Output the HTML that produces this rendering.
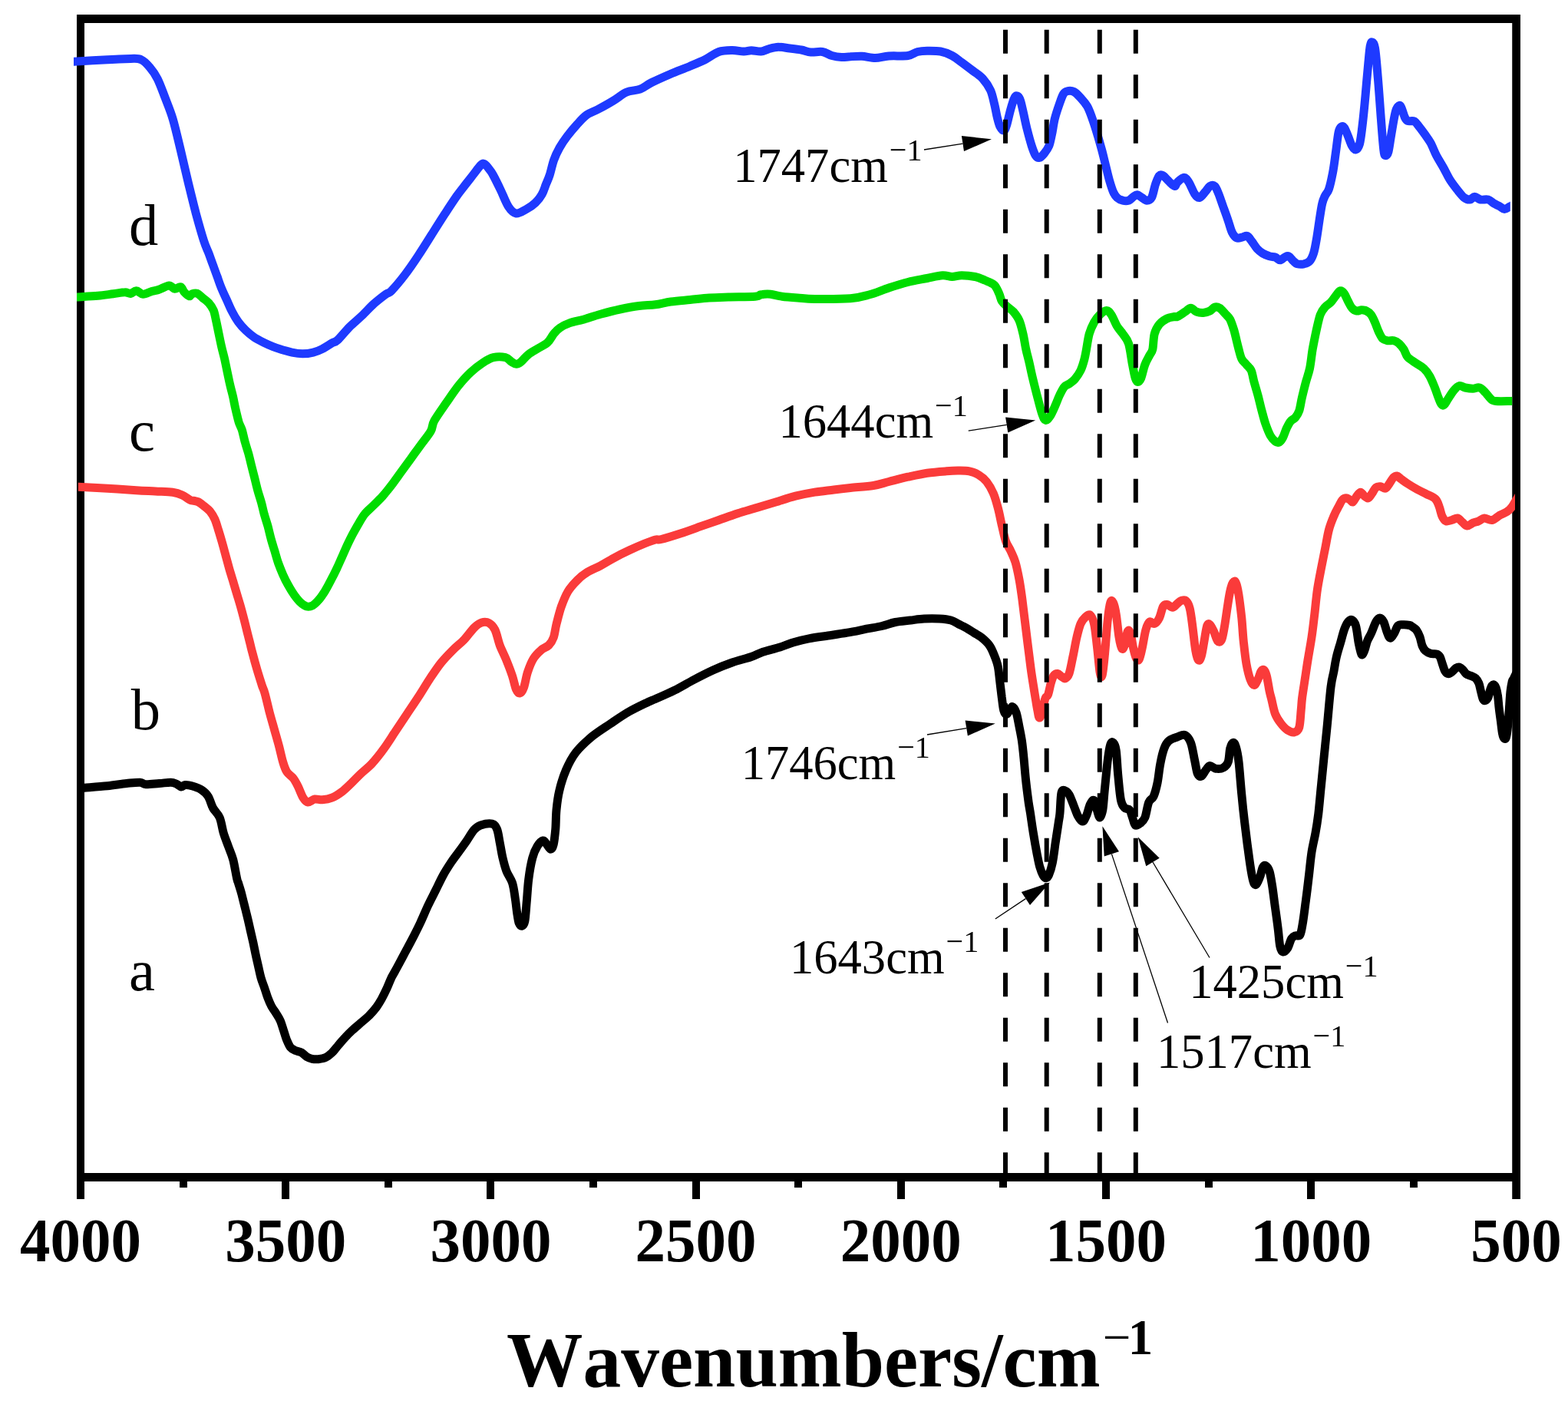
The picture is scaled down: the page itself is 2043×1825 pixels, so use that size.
<!DOCTYPE html>
<html lang="en"><head><meta charset="utf-8"><title>FTIR spectra</title>
<style>html,body{margin:0;padding:0;background:#fff}body{width:2043px;height:1825px;overflow:hidden}svg{display:block}text{font-family:"Liberation Serif",serif;fill:#000}.tk{font-weight:bold;font-size:79px;text-anchor:middle}.lb{font-size:76.5px}.an{font-size:64px}.sup{font-size:41px}.ti{font-weight:bold;font-size:99.5px}.tis{font-weight:bold;font-size:65px}.tim{font-weight:normal;font-size:65px}</style></head><body>
<svg width="2043" height="1825" viewBox="0 0 2043 1825">
<rect width="2043" height="1825" fill="#fff"/>
<g fill="#000" shape-rendering="crispEdges">
<rect x="100" y="19" width="1881" height="11"/>
<rect x="100" y="1528" width="1881" height="10.5"/>
<rect x="100" y="19" width="10" height="1543"/>
<rect x="1970.25" y="19" width="10.75" height="1543" shape-rendering="auto"/>
<rect x="367.2" y="1528" width="10" height="34"/>
<rect x="634.4" y="1528" width="10" height="34"/>
<rect x="901.6" y="1528" width="10" height="34"/>
<rect x="1168.8" y="1528" width="10" height="34"/>
<rect x="1436.0" y="1528" width="10" height="34"/>
<rect x="1703.2" y="1528" width="10" height="34"/>
<rect x="233.6" y="1528" width="10" height="18.5"/>
<rect x="500.8" y="1528" width="10" height="18.5"/>
<rect x="768.0" y="1528" width="10" height="18.5"/>
<rect x="1035.2" y="1528" width="10" height="18.5"/>
<rect x="1302.4" y="1528" width="10" height="18.5"/>
<rect x="1569.6" y="1528" width="10" height="18.5"/>
<rect x="1836.8" y="1528" width="10" height="18.5"/>
</g>
<defs><clipPath id="cp-blue"><rect x="96" y="0" width="1871.8" height="1825"/></clipPath><clipPath id="cp-green"><rect x="100" y="0" width="1870.2" height="1825"/></clipPath><clipPath id="cp-red"><rect x="102" y="0" width="1872" height="1825"/></clipPath><clipPath id="cp-black"><rect x="104" y="0" width="1871" height="1825"/></clipPath></defs>
<path d="M102.0,1026.9C103.3,1026.8 103.7,1026.8 110.0,1026.2C116.3,1025.7 130.8,1024.7 140.0,1023.8C149.2,1022.8 157.9,1021.2 165.0,1020.5C172.1,1019.8 178.3,1019.0 182.5,1019.2C186.7,1019.5 185.8,1021.5 190.0,1021.8C194.2,1022.0 202.1,1020.9 207.5,1020.5C212.9,1020.1 218.8,1019.1 222.5,1019.2C226.2,1019.4 227.7,1020.3 230.0,1021.2C232.3,1022.2 234.4,1024.8 236.2,1025.0C238.1,1025.2 239.0,1022.7 241.2,1022.5C243.5,1022.3 246.5,1022.7 250.0,1023.8C253.5,1024.8 259.0,1026.5 262.5,1028.8C266.0,1031.0 268.8,1033.5 271.2,1037.5C273.8,1041.5 275.0,1047.9 277.5,1052.5C280.0,1057.1 284.0,1059.6 286.2,1065.0C288.5,1070.4 289.4,1078.8 291.2,1085.0C293.1,1091.2 295.4,1096.7 297.5,1102.5C299.6,1108.3 301.9,1112.9 303.8,1120.0C305.6,1127.1 307.6,1140.0 308.8,1145.0C309.9,1150.0 309.5,1146.9 310.4,1150.0C311.4,1153.1 313.2,1158.7 314.6,1163.7C315.9,1168.8 317.3,1174.7 318.7,1180.2C320.1,1185.7 321.5,1191.4 322.8,1196.7C324.1,1202.0 325.1,1206.8 326.2,1211.8C327.4,1216.8 328.5,1221.7 329.7,1226.9C330.8,1232.2 332.0,1238.1 333.1,1243.4C334.2,1248.7 335.4,1253.5 336.5,1258.5C337.7,1263.6 338.6,1268.8 340.0,1273.6C341.3,1278.4 343.3,1283.0 344.8,1287.4C346.3,1291.7 347.4,1295.8 348.9,1299.7C350.4,1303.6 351.9,1307.3 353.7,1310.7C355.5,1314.1 357.9,1317.1 359.9,1320.3C361.8,1323.5 363.8,1326.3 365.4,1329.9C367.0,1333.6 368.1,1338.2 369.5,1342.3C370.9,1346.4 372.1,1351.0 373.6,1354.7C375.1,1358.3 376.6,1362.0 378.4,1364.3C380.3,1366.6 382.2,1367.3 384.6,1368.4C387.0,1369.6 390.3,1369.8 392.9,1371.2C395.4,1372.5 397.4,1375.3 399.7,1376.6C402.0,1378.0 404.1,1378.9 406.6,1379.4C409.1,1379.9 411.9,1380.0 414.8,1379.7C417.8,1379.3 421.5,1378.8 424.5,1377.3C427.4,1375.9 429.9,1373.8 432.7,1371.2C435.4,1368.5 438.2,1364.7 440.9,1361.5C443.7,1358.3 446.2,1355.1 449.2,1351.9C452.2,1348.7 455.4,1345.5 458.8,1342.3C462.2,1339.1 466.1,1335.9 469.8,1332.7C473.4,1329.5 477.3,1326.5 480.8,1323.1C484.2,1319.6 487.6,1315.8 490.4,1312.1C493.1,1308.4 495.0,1305.2 497.3,1301.1C499.5,1297.0 502.0,1291.9 504.1,1287.4C506.2,1282.8 507.8,1278.2 510.0,1273.6C512.3,1269.1 514.6,1265.4 517.5,1260.0C520.4,1254.6 524.2,1247.5 527.5,1241.2C530.8,1235.0 534.2,1229.0 537.5,1222.5C540.8,1216.0 544.2,1209.6 547.5,1202.5C550.8,1195.4 554.2,1187.1 557.5,1180.0C560.8,1172.9 564.2,1166.7 567.5,1160.0C570.8,1153.3 574.2,1146.0 577.5,1140.0C580.8,1134.0 584.2,1128.8 587.5,1123.8C590.8,1118.8 594.2,1114.6 597.5,1110.0C600.8,1105.4 604.2,1101.0 607.5,1096.2C610.8,1091.5 614.4,1084.8 617.5,1081.2C620.6,1077.7 622.3,1076.3 626.2,1075.0C630.2,1073.7 637.7,1072.4 641.2,1073.2C644.8,1074.1 645.8,1076.0 647.5,1080.0C649.2,1084.0 650.0,1091.2 651.2,1097.5C652.5,1103.8 653.5,1111.2 655.0,1117.5C656.5,1123.8 657.9,1129.6 660.0,1135.0C662.1,1140.4 665.6,1144.2 667.5,1150.0C669.4,1155.8 670.2,1163.3 671.2,1170.0C672.3,1176.7 672.9,1184.6 673.8,1190.0C674.6,1195.4 675.2,1199.8 676.2,1202.5C677.3,1205.2 678.8,1206.7 680.0,1206.2C681.2,1205.8 682.7,1205.2 683.8,1200.0C684.8,1194.8 685.4,1184.2 686.2,1175.0C687.1,1165.8 687.5,1154.6 688.8,1145.0C690.0,1135.4 691.9,1124.6 693.8,1117.5C695.6,1110.4 697.7,1106.2 700.0,1102.5C702.3,1098.8 705.4,1095.4 707.5,1095.0C709.6,1094.6 710.8,1098.1 712.5,1100.0C714.2,1101.9 716.0,1106.2 717.5,1106.2C719.0,1106.2 720.2,1104.4 721.2,1100.0C722.3,1095.6 723.1,1087.5 723.8,1080.0C724.4,1072.5 724.2,1063.3 725.0,1055.0C725.8,1046.7 726.7,1038.7 728.8,1030.0C730.8,1021.3 734.0,1011.2 737.5,1003.0C741.0,994.8 744.6,987.6 750.0,980.5C755.4,973.4 762.5,966.8 770.0,960.5C777.5,954.2 786.7,948.6 795.0,943.0C803.3,937.4 811.7,931.5 820.0,926.8C828.3,922.0 839.3,917.0 845.0,914.2C850.7,911.5 848.3,913.0 854.0,910.5C859.7,908.0 870.7,903.4 879.0,899.2C887.3,895.1 895.7,889.9 904.0,885.5C912.3,881.1 920.7,876.8 929.0,873.0C937.3,869.2 945.7,865.9 954.0,863.0C962.3,860.1 972.3,857.8 979.0,855.5C985.7,853.2 987.8,851.3 994.0,849.2C1000.2,847.2 1009.8,845.1 1016.5,843.0C1023.2,840.9 1027.8,838.6 1034.0,836.8C1040.2,834.9 1046.5,833.2 1054.0,831.8C1061.5,830.3 1070.7,829.2 1079.0,828.0C1087.3,826.8 1095.7,825.7 1104.0,824.2C1112.3,822.8 1121.5,820.7 1129.0,819.2C1136.5,817.8 1142.8,817.0 1149.0,815.5C1155.2,814.0 1160.2,811.8 1166.5,810.5C1172.8,809.2 1180.2,808.8 1186.5,808.0C1192.8,807.2 1197.8,806.3 1204.0,806.0C1210.2,805.7 1218.2,805.7 1224.0,806.0C1229.8,806.3 1234.8,806.8 1239.0,808.0C1243.2,809.2 1245.7,811.3 1249.0,813.0C1252.3,814.7 1255.7,816.1 1259.0,818.0C1262.3,819.9 1265.7,822.2 1269.0,824.2C1272.3,826.3 1275.7,827.8 1279.0,830.5C1282.3,833.2 1286.3,836.8 1289.0,840.5C1291.7,844.2 1293.4,848.4 1295.2,853.0C1297.1,857.6 1299.0,862.2 1300.2,868.0C1301.5,873.8 1301.9,881.3 1302.8,888.0C1303.6,894.7 1304.4,901.8 1305.2,908.0C1306.1,914.2 1306.7,921.8 1307.8,925.5C1308.8,929.2 1310.2,930.5 1311.5,930.5C1312.8,930.5 1314.0,927.2 1315.2,925.5C1316.5,923.8 1317.5,920.1 1319.0,920.5C1320.5,920.9 1322.5,923.8 1324.0,928.0C1325.5,932.2 1326.5,939.2 1327.8,945.5C1329.0,951.8 1330.5,958.4 1331.5,965.5C1332.5,972.6 1333.2,979.7 1334.0,988.0C1334.8,996.3 1335.5,1005.9 1336.5,1015.5C1337.5,1025.1 1339.2,1038.1 1340.2,1045.5C1341.3,1052.9 1341.6,1053.3 1342.6,1060.0C1343.6,1066.7 1345.0,1077.0 1346.4,1085.5C1347.8,1094.1 1349.5,1103.8 1350.9,1111.1C1352.3,1118.3 1353.3,1124.1 1354.7,1129.0C1356.1,1133.9 1357.8,1138.0 1359.2,1140.5C1360.6,1142.9 1361.7,1143.9 1363.0,1143.7C1364.3,1143.4 1365.5,1142.5 1366.8,1139.2C1368.2,1135.9 1369.9,1130.7 1371.3,1123.9C1372.7,1117.0 1373.9,1106.8 1375.1,1098.3C1376.4,1089.8 1378.0,1079.2 1379.0,1072.8C1379.9,1066.4 1380.2,1066.7 1380.9,1060.0C1381.6,1053.3 1381.8,1037.5 1383.0,1032.5C1384.2,1027.5 1386.3,1029.6 1388.0,1030.0C1389.7,1030.4 1391.1,1031.7 1393.0,1035.0C1394.9,1038.3 1397.4,1045.4 1399.2,1050.0C1401.1,1054.6 1402.4,1059.2 1404.2,1062.5C1406.1,1065.8 1408.6,1070.0 1410.5,1070.0C1412.4,1070.0 1413.8,1066.2 1415.5,1062.5C1417.2,1058.8 1418.8,1050.8 1420.5,1047.5C1422.2,1044.2 1424.0,1041.2 1425.5,1042.5C1427.0,1043.8 1428.0,1051.2 1429.2,1055.0C1430.5,1058.8 1431.8,1065.0 1433.0,1065.0C1434.2,1065.0 1435.7,1060.8 1436.8,1055.0C1437.8,1049.2 1438.2,1040.4 1439.2,1030.0C1440.3,1019.6 1441.8,1002.5 1443.0,992.5C1444.2,982.5 1445.5,974.2 1446.8,970.0C1448.0,965.8 1449.2,966.2 1450.5,967.5C1451.8,968.8 1453.2,970.4 1454.2,977.5C1455.3,984.6 1455.7,999.2 1456.8,1010.0C1457.8,1020.8 1459.0,1035.4 1460.5,1042.5C1462.0,1049.6 1463.6,1050.4 1465.5,1052.5C1467.4,1054.6 1470.1,1052.9 1471.8,1055.0C1473.4,1057.1 1474.2,1061.7 1475.5,1065.0C1476.8,1068.3 1477.6,1073.8 1479.2,1075.0C1480.9,1076.2 1483.4,1074.2 1485.5,1072.5C1487.6,1070.8 1489.9,1069.6 1491.8,1065.0C1493.6,1060.4 1494.9,1049.6 1496.8,1045.0C1498.6,1040.4 1501.1,1041.7 1503.0,1037.5C1504.9,1033.3 1506.5,1027.1 1508.0,1020.0C1509.5,1012.9 1510.3,1002.5 1511.8,995.0C1513.2,987.5 1514.9,980.0 1516.8,975.0C1518.6,970.0 1520.1,967.5 1523.0,965.0C1525.9,962.5 1530.5,961.2 1534.0,960.0C1537.5,958.8 1541.1,956.2 1544.0,957.5C1546.9,958.8 1549.4,962.1 1551.5,967.5C1553.6,972.9 1555.0,983.3 1556.5,990.0C1558.0,996.7 1558.8,1004.0 1560.2,1007.5C1561.7,1011.0 1563.4,1012.1 1565.2,1011.2C1567.1,1010.4 1569.6,1004.8 1571.5,1002.5C1573.4,1000.2 1574.4,997.7 1576.5,997.5C1578.6,997.3 1581.1,1000.8 1584.0,1001.2C1586.9,1001.7 1591.3,1001.5 1594.0,1000.0C1596.7,998.5 1598.8,996.7 1600.2,992.5C1601.7,988.3 1601.7,979.2 1602.8,975.0C1603.8,970.8 1605.2,967.9 1606.5,967.5C1607.8,967.1 1609.0,968.3 1610.2,972.5C1611.5,976.7 1612.8,982.1 1614.0,992.5C1615.2,1002.9 1616.5,1022.1 1617.8,1035.0C1619.0,1047.9 1620.2,1059.2 1621.5,1070.0C1622.8,1080.8 1624.0,1090.4 1625.2,1100.0C1626.5,1109.6 1627.8,1119.6 1629.0,1127.5C1630.2,1135.4 1631.5,1143.3 1632.8,1147.5C1634.0,1151.7 1635.0,1153.3 1636.5,1152.5C1638.0,1151.7 1640.0,1146.2 1641.5,1142.5C1643.0,1138.8 1644.0,1132.5 1645.2,1130.0C1646.5,1127.5 1647.5,1126.7 1649.0,1127.5C1650.5,1128.3 1652.5,1130.4 1654.0,1135.0C1655.5,1139.6 1656.5,1147.1 1657.8,1155.0C1659.0,1162.9 1660.2,1173.3 1661.5,1182.5C1662.8,1191.7 1664.2,1201.7 1665.2,1210.0C1666.3,1218.3 1666.7,1227.5 1667.8,1232.5C1668.8,1237.5 1669.8,1239.6 1671.5,1240.0C1673.2,1240.4 1675.9,1237.9 1677.8,1235.0C1679.6,1232.1 1681.1,1225.2 1682.8,1222.5C1684.4,1219.8 1685.9,1219.6 1687.8,1218.8C1689.6,1217.9 1692.3,1220.6 1694.0,1217.5C1695.7,1214.4 1696.5,1207.5 1697.8,1200.0C1699.0,1192.5 1700.2,1182.1 1701.5,1172.5C1702.8,1162.9 1704.0,1152.9 1705.2,1142.5C1706.5,1132.1 1707.5,1119.6 1709.0,1110.0C1710.5,1100.4 1712.5,1093.3 1714.0,1085.0C1715.5,1076.7 1716.5,1070.4 1717.8,1060.0C1719.0,1049.6 1720.2,1035.0 1721.5,1022.5C1722.8,1010.0 1724.0,997.5 1725.2,985.0C1726.5,972.5 1727.5,962.5 1729.0,947.5C1730.5,932.5 1732.5,907.1 1734.0,895.0C1735.5,882.9 1736.5,881.7 1737.8,875.0C1739.0,868.3 1740.0,861.2 1741.5,855.0C1743.0,848.8 1744.8,843.3 1746.5,837.5C1748.2,831.7 1749.8,824.6 1751.5,820.0C1753.2,815.4 1754.8,812.1 1756.5,810.0C1758.2,807.9 1759.8,806.7 1761.5,807.5C1763.2,808.3 1765.0,810.0 1766.5,815.0C1768.0,820.0 1769.0,831.2 1770.2,837.5C1771.5,843.8 1772.8,850.8 1774.0,852.5C1775.2,854.2 1776.5,850.4 1777.8,847.5C1779.0,844.6 1780.0,838.8 1781.5,835.0C1783.0,831.2 1784.6,829.2 1786.5,825.0C1788.4,820.8 1790.9,813.3 1792.8,810.0C1794.6,806.7 1796.1,805.0 1797.8,805.0C1799.4,805.0 1801.1,806.7 1802.8,810.0C1804.4,813.3 1806.3,821.5 1807.8,825.0C1809.2,828.5 1810.0,831.2 1811.5,831.2C1813.0,831.2 1814.8,827.7 1816.5,825.0C1818.2,822.3 1819.6,816.9 1821.5,815.0C1823.4,813.1 1825.2,813.8 1827.8,813.8C1830.2,813.7 1834.5,814.1 1836.5,814.5C1838.5,814.9 1838.5,815.2 1840.0,816.3C1841.5,817.3 1843.8,818.5 1845.5,820.7C1847.1,822.9 1848.6,826.0 1849.9,829.5C1851.2,832.9 1851.9,838.4 1853.2,841.5C1854.5,844.7 1855.8,846.5 1857.6,848.1C1859.4,849.8 1861.8,850.8 1864.2,851.4C1866.6,852.1 1869.9,851.2 1871.9,852.0C1873.9,852.7 1875.0,853.5 1876.3,855.8C1877.5,858.1 1878.5,862.6 1879.6,865.7C1880.7,868.8 1881.6,872.5 1882.9,874.5C1884.1,876.5 1885.6,877.8 1887.3,877.8C1888.9,877.8 1891.1,875.8 1892.7,874.5C1894.4,873.2 1895.7,871.0 1897.1,870.1C1898.6,869.2 1900.1,868.6 1901.5,869.0C1903.0,869.4 1904.5,870.8 1905.9,872.3C1907.4,873.8 1908.5,876.4 1910.3,877.8C1912.2,879.2 1914.9,879.6 1916.9,880.5C1918.9,881.5 1920.8,881.7 1922.4,883.3C1924.1,884.9 1925.6,887.0 1926.8,889.9C1928.0,892.8 1928.6,897.4 1929.6,900.9C1930.5,904.4 1931.3,908.8 1932.3,910.8C1933.3,912.7 1934.5,912.8 1935.6,912.4C1936.7,912.1 1937.9,910.9 1938.9,908.6C1939.9,906.3 1940.8,901.2 1941.6,898.7C1942.5,896.1 1943.0,894.3 1943.8,893.2C1944.7,892.1 1945.7,891.5 1946.6,892.1C1947.5,892.6 1948.5,894.1 1949.3,896.5C1950.2,898.9 1950.9,902.0 1951.5,906.4C1952.2,910.8 1952.5,917.4 1953.2,922.9C1953.8,928.4 1954.7,933.8 1955.4,939.3C1956.1,944.8 1956.8,952.1 1957.6,955.8C1958.3,959.6 1959.0,961.1 1959.8,961.9C1960.6,962.6 1961.7,963.1 1962.5,960.2C1963.4,957.4 1964.1,951.1 1964.7,944.8C1965.4,938.6 1965.8,930.2 1966.4,922.9C1966.9,915.5 1967.4,906.7 1968.0,900.9C1968.7,895.0 1969.6,890.4 1970.2,887.7C1970.9,884.9 1970.3,887.6 1971.9,884.4C1973.5,881.2 1978.5,871.1 1979.9,868.4" fill="none" stroke="#000000" stroke-width="11" stroke-linejoin="round" stroke-linecap="butt" clip-path="url(#cp-black)"/>
<path d="M94.5,633.8C95.8,633.9 94.9,633.8 102.5,634.2C110.1,634.7 127.5,635.5 140.0,636.2C152.5,637.0 167.1,638.1 177.5,638.8C187.9,639.4 194.6,639.6 202.5,640.0C210.4,640.4 219.2,640.4 225.0,641.2C230.8,642.1 233.8,643.3 237.5,645.0C241.2,646.7 245.4,650.1 247.5,651.2C249.6,652.4 248.3,651.6 250.0,652.0C251.7,652.4 255.2,652.4 257.9,653.6C260.5,654.7 263.1,657.0 265.7,659.1C268.3,661.2 271.2,663.2 273.6,666.1C275.9,669.0 278.0,672.3 279.9,676.4C281.7,680.4 283.0,685.5 284.6,690.5C286.2,695.5 287.7,700.7 289.3,706.2C290.9,711.7 292.5,717.8 294.0,723.5C295.6,729.3 297.2,735.3 298.7,740.8C300.3,746.3 301.9,751.3 303.5,756.5C305.0,761.8 306.6,767.0 308.2,772.3C309.7,777.5 311.3,782.5 312.9,788.0C314.5,793.5 316.0,799.3 317.6,805.3C319.2,811.3 320.9,818.4 322.3,824.2C323.8,829.9 325.2,835.7 326.3,840.0C327.3,844.3 327.3,844.6 328.8,850.0C330.2,855.4 332.9,865.4 335.0,872.5C337.1,879.6 339.6,887.4 341.2,892.5C342.9,897.6 343.3,897.1 345.0,903.0C346.7,908.9 349.2,920.1 351.2,928.0C353.3,935.9 355.4,943.0 357.5,950.5C359.6,958.0 361.9,965.9 363.8,973.0C365.6,980.1 367.1,987.6 368.8,993.0C370.4,998.4 371.5,1002.0 373.8,1005.5C376.0,1009.0 380.0,1010.9 382.5,1014.2C385.0,1017.6 386.7,1021.3 388.8,1025.5C390.8,1029.7 392.9,1036.0 395.0,1039.2C397.1,1042.5 398.8,1044.7 401.2,1045.0C403.8,1045.3 406.9,1041.5 410.0,1041.0C413.1,1040.5 416.2,1042.0 420.0,1041.8C423.8,1041.5 428.3,1040.9 432.5,1039.2C436.7,1037.6 440.8,1034.9 445.0,1031.8C449.2,1028.6 453.3,1024.5 457.5,1020.5C461.7,1016.5 465.4,1012.4 470.0,1008.0C474.6,1003.6 480.0,999.7 485.0,994.2C490.0,988.8 495.0,982.4 500.0,975.5C505.0,968.6 510.0,960.5 515.0,953.0C520.0,945.5 525.0,938.0 530.0,930.5C535.0,923.0 540.0,915.7 545.0,908.0C550.0,900.3 555.0,891.8 560.0,884.2C565.0,876.8 570.0,869.2 575.0,863.0C580.0,856.8 585.0,851.8 590.0,846.8C595.0,841.8 600.4,837.8 605.0,833.0C609.6,828.2 613.8,821.7 617.5,818.0C621.2,814.3 624.2,812.0 627.5,811.0C630.8,810.0 634.6,810.2 637.5,811.8C640.4,813.3 642.7,815.7 645.0,820.5C647.3,825.3 648.8,833.8 651.2,840.5C653.8,847.2 657.3,853.8 660.0,860.5C662.7,867.2 665.4,874.2 667.5,880.5C669.6,886.8 670.8,894.2 672.5,898.0C674.2,901.8 675.8,903.4 677.5,903.0C679.2,902.6 680.8,900.1 682.5,895.5C684.2,890.9 685.4,881.8 687.5,875.5C689.6,869.2 692.1,862.8 695.0,858.0C697.9,853.2 701.7,849.7 705.0,846.8C708.3,843.8 712.3,843.2 715.0,840.5C717.7,837.8 719.6,835.1 721.2,830.5C722.9,825.9 723.3,819.7 725.0,813.0C726.7,806.3 728.8,797.6 731.2,790.5C733.8,783.4 736.5,776.3 740.0,770.5C743.5,764.7 748.3,759.7 752.5,755.5C756.7,751.3 760.0,748.6 765.0,745.5C770.0,742.4 776.7,739.9 782.5,736.8C788.3,733.6 793.8,730.1 800.0,726.8C806.2,723.4 813.3,719.9 820.0,716.8C826.7,713.6 834.3,710.3 840.0,708.0C845.7,705.7 850.4,703.9 854.0,703.0C857.6,702.1 856.1,703.8 861.5,702.5C866.9,701.2 878.2,697.7 886.5,695.0C894.8,692.3 903.2,689.2 911.5,686.2C919.8,683.3 928.2,680.4 936.5,677.5C944.8,674.6 953.2,671.5 961.5,668.8C969.8,666.0 978.2,663.8 986.5,661.2C994.8,658.8 1003.2,656.2 1011.5,653.8C1019.8,651.2 1028.2,648.3 1036.5,646.2C1044.8,644.2 1053.2,642.6 1061.5,641.2C1069.8,639.9 1078.8,639.0 1086.5,638.0C1094.2,637.0 1099.4,636.4 1108.0,635.5C1116.6,634.6 1129.7,633.8 1138.0,632.5C1146.3,631.2 1150.5,629.4 1158.0,627.5C1165.5,625.6 1174.7,623.1 1183.0,621.2C1191.3,619.4 1199.7,617.5 1208.0,616.2C1216.3,615.0 1226.3,614.3 1233.0,613.8C1239.7,613.2 1243.0,613.0 1248.0,613.0C1253.0,613.0 1258.4,612.8 1263.0,613.8C1267.6,614.7 1271.8,616.5 1275.5,618.8C1279.2,621.0 1282.4,623.5 1285.5,627.5C1288.6,631.5 1291.8,636.7 1294.2,642.5C1296.8,648.3 1298.6,655.4 1300.5,662.5C1302.4,669.6 1303.8,677.9 1305.5,685.0C1307.2,692.1 1308.6,699.6 1310.5,705.0C1312.4,710.4 1314.7,712.9 1316.8,717.5C1318.8,722.1 1321.1,726.2 1323.0,732.5C1324.9,738.8 1326.5,747.1 1328.0,755.0C1329.5,762.9 1330.5,770.8 1331.8,780.0C1333.0,789.2 1334.2,800.0 1335.5,810.0C1336.8,820.0 1338.0,830.0 1339.2,840.0C1340.5,850.0 1341.8,860.8 1343.0,870.0C1344.2,879.2 1345.7,888.3 1346.8,895.0C1347.8,901.7 1348.4,905.0 1349.2,910.0C1350.1,915.0 1350.9,920.8 1351.8,925.0C1352.6,929.2 1353.2,934.6 1354.2,935.0C1355.3,935.4 1356.8,931.7 1358.0,927.5C1359.2,923.3 1360.5,913.8 1361.8,910.0C1363.0,906.2 1364.2,908.3 1365.5,905.0C1366.8,901.7 1368.0,894.2 1369.2,890.0C1370.5,885.8 1371.5,882.1 1373.0,880.0C1374.5,877.9 1376.3,877.3 1378.0,877.5C1379.7,877.7 1381.3,880.2 1383.0,881.2C1384.7,882.3 1386.3,884.4 1388.0,883.8C1389.7,883.1 1391.3,882.3 1393.0,877.5C1394.7,872.7 1396.3,862.9 1398.0,855.0C1399.7,847.1 1401.3,837.1 1403.0,830.0C1404.7,822.9 1406.1,816.9 1408.0,812.5C1409.9,808.1 1412.2,805.6 1414.2,803.8C1416.3,801.9 1418.6,799.8 1420.5,801.2C1422.4,802.7 1424.0,806.0 1425.5,812.5C1427.0,819.0 1428.0,829.6 1429.2,840.0C1430.5,850.4 1431.9,868.3 1433.0,875.0C1434.1,881.7 1435.0,883.3 1436.0,880.0C1437.0,876.7 1438.1,866.7 1439.2,855.0C1440.4,843.3 1441.8,821.7 1443.0,810.0C1444.2,798.3 1445.5,789.2 1446.8,785.0C1448.0,780.8 1449.2,782.5 1450.5,785.0C1451.8,787.5 1453.0,792.5 1454.2,800.0C1455.5,807.5 1456.8,822.5 1458.0,830.0C1459.2,837.5 1460.5,843.3 1461.8,845.0C1463.0,846.7 1464.2,843.8 1465.5,840.0C1466.8,836.2 1468.0,825.0 1469.2,822.5C1470.5,820.0 1471.8,821.2 1473.0,825.0C1474.2,828.8 1475.5,839.6 1476.8,845.0C1478.0,850.4 1479.2,855.2 1480.5,857.5C1481.8,859.8 1483.0,860.8 1484.2,858.8C1485.5,856.7 1486.5,851.5 1488.0,845.0C1489.5,838.5 1491.3,825.8 1493.0,820.0C1494.7,814.2 1496.1,811.2 1498.0,810.0C1499.9,808.8 1502.2,813.3 1504.2,812.5C1506.3,811.7 1508.6,808.8 1510.5,805.0C1512.4,801.2 1513.8,792.9 1515.5,790.0C1517.2,787.1 1518.4,787.3 1520.5,787.5C1522.6,787.7 1525.8,791.5 1528.0,791.2C1530.2,791.0 1532.2,787.7 1534.0,786.2C1535.8,784.8 1537.1,783.1 1539.0,782.5C1540.9,781.9 1543.4,780.8 1545.2,782.5C1547.1,784.2 1548.8,786.7 1550.2,792.5C1551.7,798.3 1552.8,808.3 1554.0,817.5C1555.2,826.7 1556.5,840.4 1557.8,847.5C1559.0,854.6 1560.2,858.8 1561.5,860.0C1562.8,861.2 1564.0,859.2 1565.2,855.0C1566.5,850.8 1567.8,841.7 1569.0,835.0C1570.2,828.3 1571.5,818.5 1572.8,815.0C1574.0,811.5 1575.0,812.5 1576.5,813.8C1578.0,815.0 1579.8,819.0 1581.5,822.5C1583.2,826.0 1584.8,833.1 1586.5,835.0C1588.2,836.9 1590.0,836.7 1591.5,833.8C1593.0,830.8 1594.0,824.4 1595.2,817.5C1596.5,810.6 1597.8,800.4 1599.0,792.5C1600.2,784.6 1601.5,775.6 1602.8,770.0C1604.0,764.4 1605.2,760.6 1606.5,758.8C1607.8,756.9 1609.0,756.0 1610.2,758.8C1611.5,761.5 1612.8,767.3 1614.0,775.0C1615.2,782.7 1616.7,795.0 1617.8,805.0C1618.8,815.0 1619.2,825.0 1620.2,835.0C1621.3,845.0 1622.5,856.7 1624.0,865.0C1625.5,873.3 1627.3,880.4 1629.0,885.0C1630.7,889.6 1632.3,892.5 1634.0,892.5C1635.7,892.5 1637.5,887.9 1639.0,885.0C1640.5,882.1 1641.5,877.1 1642.8,875.0C1644.0,872.9 1645.2,871.7 1646.5,872.5C1647.8,873.3 1649.0,875.4 1650.2,880.0C1651.5,884.6 1653.0,895.0 1654.0,900.0C1655.0,905.0 1655.2,905.0 1656.5,910.0C1657.8,915.0 1659.4,924.6 1661.5,930.0C1663.6,935.4 1666.3,939.0 1669.0,942.5C1671.7,946.0 1674.8,949.4 1677.8,951.2C1680.7,953.1 1684.0,954.4 1686.5,953.8C1689.0,953.1 1691.3,952.3 1692.8,947.5C1694.2,942.7 1694.6,931.2 1695.2,925.0C1695.9,918.8 1695.7,916.7 1696.5,910.0C1697.3,903.3 1699.0,893.3 1700.2,885.0C1701.5,876.7 1702.5,869.2 1704.0,860.0C1705.5,850.8 1707.5,840.0 1709.0,830.0C1710.5,820.0 1711.5,810.4 1712.8,800.0C1714.0,789.6 1715.0,777.5 1716.5,767.5C1718.0,757.5 1719.8,748.8 1721.5,740.0C1723.2,731.2 1724.8,723.3 1726.5,715.0C1728.2,706.7 1729.6,697.1 1731.5,690.0C1733.4,682.9 1735.7,677.5 1737.8,672.5C1739.8,667.5 1742.1,663.5 1744.0,660.0C1745.9,656.5 1747.3,653.1 1749.0,651.2C1750.7,649.4 1752.3,648.8 1754.0,648.8C1755.7,648.8 1757.5,650.4 1759.0,651.2C1760.5,652.1 1761.3,654.6 1762.8,653.8C1764.2,652.9 1766.1,648.3 1767.8,646.2C1769.4,644.2 1771.1,641.2 1772.8,641.2C1774.4,641.2 1776.1,645.0 1777.8,646.2C1779.4,647.5 1781.1,649.4 1782.8,648.8C1784.4,648.1 1786.1,644.8 1787.8,642.5C1789.4,640.2 1790.9,636.5 1792.8,635.0C1794.6,633.5 1796.9,633.5 1799.0,633.8C1801.1,634.0 1803.4,636.9 1805.2,636.2C1807.1,635.6 1808.6,632.3 1810.2,630.0C1811.9,627.7 1813.6,624.2 1815.2,622.5C1816.9,620.8 1818.6,619.8 1820.2,620.0C1821.9,620.2 1823.0,622.1 1825.2,623.8C1827.5,625.4 1830.5,627.7 1834.0,630.0C1837.5,632.3 1842.3,635.2 1846.5,637.5C1850.7,639.8 1855.0,641.7 1859.0,643.8C1863.0,645.8 1867.5,647.3 1870.2,650.0C1873.0,652.7 1873.8,656.2 1875.2,660.0C1876.7,663.8 1877.5,669.4 1879.0,672.5C1880.5,675.6 1881.9,677.9 1884.0,678.8C1886.1,679.6 1889.0,678.1 1891.5,677.5C1894.0,676.9 1896.7,674.6 1899.0,675.0C1901.3,675.4 1903.2,678.3 1905.2,680.0C1907.3,681.7 1909.2,684.8 1911.5,685.0C1913.8,685.2 1916.5,682.3 1919.0,681.2C1921.5,680.2 1924.0,679.8 1926.5,678.8C1929.0,677.7 1931.1,675.2 1934.0,675.0C1936.9,674.8 1940.7,678.1 1944.0,677.5C1947.3,676.9 1950.7,673.1 1954.0,671.2C1957.3,669.4 1961.3,668.1 1964.0,666.2C1966.7,664.4 1968.6,662.1 1970.2,660.0C1971.9,657.9 1972.0,657.0 1974.0,653.8C1976.0,650.5 1980.7,642.6 1982.0,640.4" fill="none" stroke="#fa3b3a" stroke-width="11" stroke-linejoin="round" stroke-linecap="butt" clip-path="url(#cp-red)"/>
<path d="M92.0,387.5C93.4,387.4 94.1,387.4 100.0,387.0C105.9,386.6 119.6,386.0 127.6,385.3C135.5,384.6 141.8,383.5 147.6,382.8C153.5,382.0 158.9,380.8 162.6,380.8C166.4,380.7 167.7,382.8 170.2,382.5C172.7,382.2 175.0,378.6 177.7,378.8C180.4,378.9 183.1,383.1 186.4,383.3C189.8,383.4 194.2,380.6 197.7,379.5C201.3,378.5 204.0,378.3 207.7,377.0C211.5,375.8 216.9,372.1 220.3,372.0C223.6,371.9 225.3,376.0 227.8,376.3C230.3,376.5 233.2,373.0 235.3,373.7C237.4,374.5 238.4,378.8 240.3,380.8C242.2,382.8 244.9,385.4 246.6,385.8C248.2,386.1 248.3,383.5 250.0,382.9C251.7,382.3 254.6,381.4 256.9,382.2C259.2,383.0 261.2,385.6 263.7,387.7C266.3,389.8 269.6,391.8 272.0,394.6C274.4,397.3 276.6,400.3 278.2,404.2C279.8,408.1 280.4,412.9 281.6,417.9C282.7,422.9 283.9,428.9 285.0,434.4C286.2,439.9 287.2,445.4 288.5,450.9C289.7,456.4 291.3,461.9 292.6,467.4C293.8,472.9 294.9,478.4 296.0,483.8C297.2,489.3 298.2,494.8 299.5,500.3C300.7,505.8 302.3,511.3 303.6,516.8C304.8,522.3 305.7,527.8 307.0,533.3C308.3,538.8 309.8,545.3 311.1,549.8C312.5,554.2 313.9,555.7 315.3,560.0C316.6,564.3 317.7,570.5 319.2,575.7C320.6,581.0 322.5,586.2 323.9,591.4C325.3,596.7 326.5,601.9 327.8,607.2C329.1,612.4 330.5,617.7 331.8,622.9C333.1,628.1 334.3,633.4 335.7,638.6C337.1,643.9 339.0,649.1 340.4,654.3C341.9,659.6 342.9,664.8 344.3,670.1C345.8,675.3 347.6,680.5 349.1,685.8C350.5,691.0 351.5,696.3 353.0,701.5C354.4,706.8 356.1,712.0 357.7,717.2C359.3,722.5 360.6,727.7 362.4,733.0C364.3,738.2 366.5,743.7 368.7,748.7C370.9,753.7 373.3,758.4 375.8,762.8C378.3,767.3 381.0,771.7 383.6,775.4C386.3,779.1 388.9,782.4 391.5,784.8C394.1,787.3 396.8,789.2 399.4,789.9C402.0,790.5 404.6,790.1 407.2,788.8C409.9,787.4 412.5,784.7 415.1,781.7C417.7,778.7 420.3,774.9 423.0,770.7C425.6,766.5 428.2,761.5 430.8,756.5C433.4,751.6 436.2,746.1 438.7,740.8C441.2,735.6 443.4,730.3 445.8,725.1C448.1,719.9 450.5,714.4 452.8,709.4C455.2,704.4 457.5,699.7 459.9,695.2C462.3,690.8 464.5,686.8 467.0,682.6C469.5,678.4 471.7,674.0 474.8,670.1C478.0,666.1 481.9,663.0 485.8,659.1C489.8,655.1 494.2,651.2 498.4,646.5C502.6,641.8 506.8,636.3 511.0,630.8C515.2,625.3 519.4,619.2 523.6,613.5C527.8,607.7 532.0,601.9 536.2,596.2C540.4,590.4 544.5,584.6 548.7,578.9C552.9,573.1 558.5,566.7 561.3,561.6C564.2,556.5 562.4,554.4 565.8,548.2C569.2,542.1 576.3,532.3 581.5,524.7C586.8,517.1 592.0,509.2 597.2,502.6C602.5,496.1 607.7,490.3 613.0,485.3C618.2,480.4 623.7,476.0 628.7,472.8C633.7,469.5 637.9,466.9 642.8,465.7C647.8,464.5 654.6,464.8 658.6,465.7C662.5,466.6 664.1,469.8 666.4,471.2C668.8,472.6 670.6,474.3 672.7,474.3C674.8,474.3 676.4,473.3 679.0,471.2C681.6,469.1 684.8,464.6 688.4,461.8C692.1,458.9 696.8,456.5 701.0,453.9C705.2,451.3 710.2,449.2 713.6,446.0C717.0,442.9 718.8,438.2 721.4,435.0C724.1,431.9 725.9,429.5 729.3,427.2C732.7,424.8 736.8,422.7 741.9,420.9C747.0,419.0 753.4,418.1 760.1,416.2C766.9,414.2 774.6,411.4 782.5,409.2C790.4,407.1 799.2,404.8 807.5,403.0C815.8,401.2 824.8,399.5 832.5,398.5C840.2,397.5 847.1,397.7 854.0,396.8C860.9,395.8 866.5,394.0 874.0,393.0C881.5,392.0 890.7,391.3 899.0,390.5C907.3,389.7 915.7,388.6 924.0,388.0C932.3,387.4 939.0,387.3 949.0,387.0C959.0,386.7 976.9,386.8 984.0,386.2C991.1,385.7 988.2,384.2 991.5,383.8C994.8,383.2 999.4,382.8 1004.0,383.2C1008.6,383.7 1013.2,385.5 1019.0,386.2C1024.8,387.0 1031.9,387.5 1039.0,388.0C1046.1,388.5 1050.0,389.4 1061.5,389.5C1073.0,389.6 1096.1,389.7 1108.0,388.8C1119.9,387.8 1124.7,386.0 1133.0,383.8C1141.3,381.5 1149.7,377.7 1158.0,375.0C1166.3,372.3 1174.7,369.6 1183.0,367.5C1191.3,365.4 1200.5,364.0 1208.0,362.5C1215.5,361.0 1222.6,359.1 1228.0,358.8C1233.4,358.4 1236.3,360.5 1240.5,360.5C1244.7,360.5 1248.0,358.8 1253.0,358.8C1258.0,358.8 1265.5,359.5 1270.5,360.5C1275.5,361.5 1278.8,363.2 1283.0,365.0C1287.2,366.8 1292.4,368.3 1295.5,371.2C1298.6,374.2 1300.1,379.0 1301.8,382.5C1303.4,386.0 1303.6,389.6 1305.5,392.5C1307.4,395.4 1310.5,397.7 1313.0,400.0C1315.5,402.3 1318.0,403.3 1320.5,406.2C1323.0,409.2 1325.9,412.7 1328.0,417.5C1330.1,422.3 1331.5,428.8 1333.0,435.0C1334.5,441.2 1335.5,449.2 1336.8,455.0C1338.0,460.8 1339.0,463.8 1340.5,470.0C1342.0,476.2 1343.6,484.6 1345.5,492.5C1347.4,500.4 1349.7,509.6 1351.8,517.5C1353.8,525.4 1356.2,535.0 1358.0,540.0C1359.8,545.0 1360.8,547.1 1362.5,547.5C1364.2,547.9 1366.0,545.4 1368.0,542.5C1370.0,539.6 1372.2,534.6 1374.2,530.0C1376.3,525.4 1378.4,519.4 1380.5,515.0C1382.6,510.6 1384.7,506.2 1386.8,503.8C1388.8,501.2 1390.7,501.7 1393.0,500.0C1395.3,498.3 1398.0,496.7 1400.5,493.8C1403.0,490.8 1405.9,486.9 1408.0,482.5C1410.1,478.1 1411.8,472.1 1413.0,467.5C1414.2,462.9 1414.5,460.4 1415.5,455.0C1416.5,449.6 1417.6,440.8 1419.2,435.0C1420.9,429.2 1423.2,424.2 1425.5,420.0C1427.8,415.8 1430.3,412.6 1433.0,410.0C1435.7,407.4 1439.2,404.5 1441.8,404.5C1444.2,404.5 1445.7,406.6 1448.0,410.0C1450.3,413.4 1453.0,420.8 1455.5,425.0C1458.0,429.2 1460.5,431.2 1463.0,435.0C1465.5,438.8 1468.4,440.8 1470.5,447.5C1472.6,454.2 1474.0,467.5 1475.5,475.0C1477.0,482.5 1478.1,488.8 1479.2,492.5C1480.4,496.2 1481.2,497.5 1482.5,497.5C1483.8,497.5 1485.2,496.2 1486.8,492.5C1488.3,488.8 1489.9,480.0 1491.8,475.0C1493.6,470.0 1496.3,465.8 1498.0,462.5C1499.7,459.2 1500.7,459.6 1501.8,455.0C1502.8,450.4 1502.8,440.4 1504.2,435.0C1505.7,429.6 1507.8,425.8 1510.5,422.5C1513.2,419.2 1517.2,416.7 1520.5,415.0C1523.8,413.3 1528.2,412.9 1530.5,412.5C1532.8,412.1 1531.8,413.5 1534.0,412.5C1536.2,411.5 1541.1,408.1 1544.0,406.2C1546.9,404.4 1549.0,401.2 1551.5,401.2C1554.0,401.2 1556.3,405.2 1559.0,406.2C1561.7,407.3 1564.8,407.7 1567.8,407.5C1570.7,407.3 1574.0,406.2 1576.5,405.0C1579.0,403.8 1580.7,400.6 1582.8,400.0C1584.8,399.4 1586.7,399.8 1589.0,401.2C1591.3,402.7 1594.2,406.2 1596.5,408.8C1598.8,411.2 1600.9,412.7 1602.8,416.2C1604.6,419.8 1606.3,425.2 1607.8,430.0C1609.2,434.8 1610.5,440.8 1611.5,445.0C1612.5,449.2 1613.0,451.2 1614.0,455.0C1615.0,458.8 1616.1,464.2 1617.8,467.5C1619.4,470.8 1621.9,472.5 1624.0,475.0C1626.1,477.5 1628.6,478.8 1630.2,482.5C1631.9,486.2 1632.5,492.1 1634.0,497.5C1635.5,502.9 1637.3,508.8 1639.0,515.0C1640.7,521.2 1642.3,528.8 1644.0,535.0C1645.7,541.2 1647.1,547.1 1649.0,552.5C1650.9,557.9 1653.2,563.8 1655.2,567.5C1657.3,571.2 1659.6,573.5 1661.5,575.0C1663.4,576.5 1664.8,577.1 1666.5,576.2C1668.2,575.4 1669.8,573.1 1671.5,570.0C1673.2,566.9 1674.8,561.0 1676.5,557.5C1678.2,554.0 1679.6,551.0 1681.5,548.8C1683.4,546.5 1685.9,546.0 1687.8,543.8C1689.6,541.5 1691.3,539.4 1692.8,535.0C1694.2,530.6 1695.0,523.8 1696.5,517.5C1698.0,511.2 1699.8,503.8 1701.5,497.5C1703.2,491.2 1705.0,487.1 1706.5,480.0C1708.0,472.9 1708.8,463.3 1710.2,455.0C1711.7,446.7 1713.6,437.5 1715.2,430.0C1716.9,422.5 1718.4,415.0 1720.2,410.0C1722.1,405.0 1724.2,402.7 1726.5,400.0C1728.8,397.3 1731.5,396.5 1734.0,393.8C1736.5,391.0 1739.4,386.2 1741.5,383.8C1743.6,381.2 1744.8,379.0 1746.5,378.8C1748.2,378.5 1749.8,380.2 1751.5,382.5C1753.2,384.8 1754.8,389.4 1756.5,392.5C1758.2,395.6 1759.6,399.2 1761.5,401.2C1763.4,403.3 1765.7,404.6 1767.8,405.0C1769.8,405.4 1771.9,403.8 1774.0,403.8C1776.1,403.8 1778.2,404.0 1780.2,405.0C1782.3,406.0 1784.6,407.5 1786.5,410.0C1788.4,412.5 1789.8,416.2 1791.5,420.0C1793.2,423.8 1794.8,429.0 1796.5,432.5C1798.2,436.0 1799.6,439.4 1801.5,441.2C1803.4,443.1 1805.2,443.3 1807.8,443.8C1810.2,444.2 1814.0,443.1 1816.5,443.8C1819.0,444.4 1820.7,445.6 1822.8,447.5C1824.8,449.4 1827.1,452.1 1829.0,455.0C1830.9,457.9 1831.5,462.1 1834.0,465.0C1836.5,467.9 1840.5,470.0 1844.0,472.5C1847.5,475.0 1852.1,477.1 1855.2,480.0C1858.4,482.9 1860.5,486.0 1862.8,490.0C1865.0,494.0 1867.1,499.2 1869.0,503.8C1870.9,508.3 1872.5,513.8 1874.0,517.5C1875.5,521.2 1876.5,524.6 1877.8,526.2C1879.0,527.9 1880.0,528.5 1881.5,527.5C1883.0,526.5 1884.4,523.1 1886.5,520.0C1888.6,516.9 1891.5,511.7 1894.0,508.8C1896.5,505.8 1899.0,503.1 1901.5,502.5C1904.0,501.9 1906.1,504.4 1909.0,505.0C1911.9,505.6 1915.9,506.2 1919.0,506.2C1922.1,506.2 1925.0,504.2 1927.8,505.0C1930.5,505.8 1932.8,508.8 1935.2,511.2C1937.8,513.8 1940.5,518.1 1942.8,520.0C1945.0,521.9 1944.4,522.1 1949.0,522.5C1953.6,522.9 1965.4,522.5 1970.2,522.5C1975.1,522.5 1976.9,522.5 1978.2,522.5" fill="none" stroke="#00dc00" stroke-width="11" stroke-linejoin="round" stroke-linecap="butt" clip-path="url(#cp-green)"/>
<path d="M88.3,80.6C89.6,80.5 87.6,80.7 96.3,80.2C104.9,79.7 127.8,78.3 140.1,77.7C152.4,77.0 162.9,76.4 170.2,76.4C177.5,76.4 179.8,75.8 183.9,77.7C188.1,79.5 191.7,83.5 195.2,87.7C198.8,91.9 201.9,96.0 205.2,102.7C208.6,109.4 211.9,119.0 215.3,127.8C218.6,136.5 221.9,144.0 225.3,155.3C228.6,166.6 232.0,181.6 235.3,195.4C238.6,209.2 242.0,224.2 245.3,238.0C248.7,251.8 252.0,265.5 255.3,278.1C258.7,290.6 262.6,304.5 265.4,313.1C268.1,321.8 270.0,324.7 272.0,330.0C274.0,335.3 275.6,340.1 277.5,345.1C279.3,350.1 281.1,355.2 283.0,360.2C284.8,365.3 286.4,370.3 288.5,375.3C290.5,380.4 293.0,385.4 295.3,390.4C297.6,395.5 299.7,400.7 302.2,405.5C304.7,410.4 307.5,415.2 310.4,419.3C313.4,423.4 316.6,427.0 320.1,430.3C323.5,433.6 327.2,436.6 331.0,439.2C334.9,441.8 339.3,444.0 343.4,446.1C347.5,448.1 351.6,450.0 355.8,451.6C359.9,453.2 364.0,454.4 368.1,455.7C372.3,456.9 376.1,458.3 380.5,459.1C384.8,460.0 389.7,460.8 394.2,460.8C398.8,460.8 403.6,460.2 408.0,459.1C412.3,458.0 416.2,456.4 420.3,454.3C424.5,452.3 429.4,448.7 432.7,446.8C436.0,444.9 436.2,446.4 440.0,442.9C443.8,439.4 450.5,430.8 455.7,425.6C461.0,420.4 466.2,416.4 471.4,411.4C476.7,406.5 481.9,400.4 487.2,395.7C492.4,391.0 499.1,386.0 502.9,383.1C506.7,380.3 505.9,383.0 510.0,378.8C514.1,374.6 521.7,365.6 527.5,358.0C533.3,350.4 539.2,341.8 545.0,333.0C550.8,324.2 556.7,314.7 562.5,305.5C568.3,296.3 574.6,286.3 580.0,278.0C585.4,269.7 590.4,262.0 595.0,255.5C599.6,249.0 604.0,243.8 607.5,239.2C611.0,234.7 613.1,232.0 616.2,228.0C619.4,224.0 624.0,217.4 626.5,215.0C629.0,212.6 629.4,212.5 631.5,213.8C633.6,215.0 637.2,220.1 639.0,222.5C640.8,224.9 640.2,223.8 642.5,228.0C644.8,232.2 649.2,241.1 652.5,248.0C655.8,254.9 659.2,264.2 662.5,269.2C665.8,274.2 668.8,277.4 672.5,278.0C676.2,278.6 680.8,275.3 685.0,273.0C689.2,270.7 694.0,267.6 697.5,264.2C701.0,260.9 704.0,257.0 706.2,253.0C708.5,249.0 709.6,244.7 711.2,240.5C712.9,236.3 714.5,233.3 716.2,228.0C718.0,222.7 719.4,214.7 721.5,208.8C723.6,202.8 726.1,197.7 729.0,192.5C731.9,187.3 735.2,182.5 739.0,177.5C742.8,172.5 747.3,167.1 751.5,162.5C755.7,157.9 759.4,153.3 764.0,150.0C768.6,146.7 773.2,145.6 779.0,142.5C784.8,139.4 792.8,135.0 799.0,131.2C805.2,127.5 810.7,122.5 816.5,120.0C822.3,117.5 828.6,118.3 834.0,116.2C839.4,114.2 842.3,110.8 849.0,107.5C855.7,104.2 865.7,99.8 874.0,96.2C882.3,92.7 891.5,89.4 899.0,86.2C906.5,83.1 912.8,80.6 919.0,77.5C925.2,74.4 930.7,69.5 936.5,67.5C942.3,65.5 948.6,65.6 954.0,65.5C959.4,65.4 964.8,67.0 969.0,67.0C973.2,67.0 975.2,65.8 979.0,65.8C982.8,65.8 987.8,67.3 991.5,67.0C995.2,66.7 997.8,64.7 1001.5,63.8C1005.2,62.8 1009.4,61.4 1014.0,61.2C1018.6,61.1 1024.0,62.4 1029.0,63.0C1034.0,63.6 1039.4,64.2 1044.0,65.0C1048.6,65.8 1051.9,67.6 1056.5,68.0C1061.1,68.4 1066.9,66.8 1071.5,67.5C1076.1,68.2 1079.8,71.3 1084.0,72.5C1088.2,73.7 1092.5,74.3 1096.5,74.5C1100.5,74.7 1103.6,74.0 1108.0,73.8C1112.4,73.5 1117.6,73.0 1123.0,73.2C1128.4,73.5 1134.7,75.5 1140.5,75.5C1146.3,75.5 1150.9,73.5 1158.0,73.0C1165.1,72.5 1176.8,73.4 1183.0,72.5C1189.2,71.6 1191.3,68.5 1195.5,67.5C1199.7,66.5 1203.0,66.3 1208.0,66.2C1213.0,66.2 1220.1,66.0 1225.5,67.0C1230.9,68.0 1235.9,70.1 1240.5,72.5C1245.1,74.9 1248.4,77.9 1253.0,81.2C1257.6,84.6 1263.4,89.0 1268.0,92.5C1272.6,96.0 1276.8,98.3 1280.5,102.5C1284.2,106.7 1288.0,112.1 1290.5,117.5C1293.0,122.9 1294.0,129.2 1295.5,135.0C1297.0,140.8 1298.0,147.5 1299.2,152.5C1300.5,157.5 1301.5,162.1 1303.0,165.0C1304.5,167.9 1306.5,170.4 1308.0,170.0C1309.5,169.6 1310.3,167.1 1311.8,162.5C1313.2,157.9 1315.1,148.3 1316.8,142.5C1318.4,136.7 1320.3,130.4 1321.8,127.5C1323.2,124.6 1324.2,124.6 1325.5,125.0C1326.8,125.4 1328.0,126.7 1329.2,130.0C1330.5,133.3 1331.5,138.8 1333.0,145.0C1334.5,151.2 1336.1,160.0 1338.0,167.5C1339.9,175.0 1342.4,184.2 1344.2,190.0C1346.1,195.8 1347.6,199.9 1349.2,202.5C1350.9,205.1 1352.4,205.9 1354.2,205.5C1356.1,205.1 1358.4,202.6 1360.5,200.0C1362.6,197.4 1365.1,194.2 1366.8,190.0C1368.4,185.8 1369.2,180.8 1370.5,175.0C1371.8,169.2 1372.6,161.7 1374.2,155.0C1375.9,148.3 1378.6,140.4 1380.5,135.0C1382.4,129.6 1383.8,125.2 1385.5,122.5C1387.2,119.8 1388.2,119.2 1390.5,118.8C1392.8,118.2 1396.3,118.0 1399.2,119.5C1402.2,121.0 1405.1,124.3 1408.0,127.5C1410.9,130.7 1414.0,133.8 1416.8,138.8C1419.5,143.8 1422.0,151.0 1424.2,157.5C1426.5,164.0 1428.6,171.2 1430.5,177.5C1432.4,183.8 1433.8,188.8 1435.5,195.0C1437.2,201.2 1438.8,208.3 1440.5,215.0C1442.2,221.7 1443.8,229.2 1445.5,235.0C1447.2,240.8 1448.8,246.2 1450.5,250.0C1452.2,253.8 1453.4,255.6 1455.5,257.5C1457.6,259.4 1460.5,260.6 1463.0,261.2C1465.5,261.9 1468.2,262.1 1470.5,261.2C1472.8,260.4 1474.9,257.5 1476.8,256.2C1478.6,255.0 1479.9,253.5 1481.8,253.8C1483.6,254.0 1485.9,256.2 1488.0,257.5C1490.1,258.8 1492.2,261.2 1494.2,261.2C1496.3,261.2 1498.6,261.0 1500.5,257.5C1502.4,254.0 1503.8,244.8 1505.5,240.0C1507.2,235.2 1508.8,230.6 1510.5,228.8C1512.2,226.9 1513.4,227.5 1515.5,228.8C1517.6,230.0 1520.5,234.0 1523.0,236.2C1525.5,238.5 1528.7,242.3 1530.5,242.5C1532.3,242.7 1532.0,239.4 1534.0,237.5C1536.0,235.6 1540.2,231.2 1542.8,231.2C1545.2,231.2 1546.7,234.0 1549.0,237.5C1551.3,241.0 1554.2,249.2 1556.5,252.5C1558.8,255.8 1560.5,257.9 1562.8,257.5C1565.0,257.1 1568.0,252.5 1570.2,250.0C1572.5,247.5 1574.4,243.8 1576.5,242.5C1578.6,241.2 1580.9,240.8 1582.8,242.5C1584.6,244.2 1585.9,247.9 1587.8,252.5C1589.6,257.1 1591.9,264.2 1594.0,270.0C1596.1,275.8 1598.4,282.1 1600.2,287.5C1602.1,292.9 1603.4,298.8 1605.2,302.5C1607.1,306.2 1609.2,309.0 1611.5,310.0C1613.8,311.0 1616.7,309.2 1619.0,308.8C1621.3,308.3 1623.2,306.5 1625.2,307.5C1627.3,308.5 1629.4,312.3 1631.5,315.0C1633.6,317.7 1635.5,321.2 1637.8,323.8C1640.0,326.2 1642.5,328.3 1645.2,330.0C1648.0,331.7 1651.3,332.9 1654.0,333.8C1656.7,334.6 1659.2,334.2 1661.5,335.0C1663.8,335.8 1665.7,338.8 1667.8,338.8C1669.8,338.8 1672.1,335.8 1674.0,335.0C1675.9,334.2 1677.1,332.9 1679.0,333.8C1680.9,334.6 1683.4,338.3 1685.2,340.0C1687.1,341.7 1688.0,343.1 1690.2,343.8C1692.5,344.4 1696.3,344.4 1699.0,343.8C1701.7,343.1 1704.4,342.3 1706.5,340.0C1708.6,337.7 1710.0,334.6 1711.5,330.0C1713.0,325.4 1714.0,319.6 1715.2,312.5C1716.5,305.4 1717.8,295.4 1719.0,287.5C1720.2,279.6 1721.5,270.4 1722.8,265.0C1724.0,259.6 1725.0,258.1 1726.5,255.0C1728.0,251.9 1729.8,251.2 1731.5,246.2C1733.2,241.2 1735.0,232.7 1736.5,225.0C1738.0,217.3 1739.0,208.8 1740.2,200.0C1741.5,191.2 1742.8,178.3 1744.0,172.5C1745.2,166.7 1746.5,166.0 1747.8,165.0C1749.0,164.0 1750.0,164.2 1751.5,166.2C1753.0,168.3 1754.8,173.5 1756.5,177.5C1758.2,181.5 1759.8,187.1 1761.5,190.0C1763.2,192.9 1764.8,195.4 1766.5,195.0C1768.2,194.6 1770.0,192.9 1771.5,187.5C1773.0,182.1 1774.0,172.9 1775.2,162.5C1776.5,152.1 1777.8,138.3 1779.0,125.0C1780.2,111.7 1781.7,93.3 1782.8,82.5C1783.8,71.7 1784.4,64.6 1785.2,60.0C1786.1,55.4 1786.7,54.6 1787.8,55.0C1788.8,55.4 1790.2,55.0 1791.5,62.5C1792.8,70.0 1794.0,85.4 1795.2,100.0C1796.5,114.6 1797.8,134.2 1799.0,150.0C1800.2,165.8 1801.7,186.2 1802.8,195.0C1803.8,203.8 1804.2,202.1 1805.2,202.5C1806.3,202.9 1807.8,202.1 1809.0,197.5C1810.2,192.9 1811.3,183.3 1812.8,175.0C1814.2,166.7 1816.3,153.5 1817.8,147.5C1819.2,141.5 1820.2,140.2 1821.5,138.8C1822.8,137.3 1823.8,136.5 1825.2,138.8C1826.7,141.0 1828.8,149.4 1830.2,152.5C1831.7,155.6 1831.9,156.6 1834.0,157.5C1836.1,158.4 1840.2,156.8 1842.8,158.0C1845.2,159.2 1846.7,162.2 1849.0,165.0C1851.3,167.8 1854.0,171.5 1856.5,175.0C1859.0,178.5 1861.5,181.7 1864.0,186.2C1866.5,190.8 1868.8,197.3 1871.5,202.5C1874.2,207.7 1877.3,212.3 1880.2,217.5C1883.2,222.7 1885.9,228.8 1889.0,233.8C1892.1,238.8 1895.9,243.5 1899.0,247.5C1902.1,251.5 1905.0,255.4 1907.8,257.5C1910.5,259.6 1913.0,260.2 1915.2,260.0C1917.5,259.8 1919.2,256.2 1921.5,256.2C1923.8,256.2 1926.1,259.4 1929.0,260.0C1931.9,260.6 1936.1,259.2 1939.0,260.0C1941.9,260.8 1944.0,263.5 1946.5,265.0C1949.0,266.5 1951.7,267.5 1954.0,268.8C1956.3,270.0 1958.0,272.5 1960.2,272.5C1962.5,272.5 1965.2,270.0 1967.8,268.8C1970.3,267.5 1974.4,265.4 1975.8,264.8" fill="none" stroke="#1e3aff" stroke-width="11" stroke-linejoin="round" stroke-linecap="butt" clip-path="url(#cp-blue)"/>
<line x1="1310" y1="38.75" x2="1310" y2="1528" stroke="#000" stroke-width="6" stroke-dasharray="31 27.5"/>
<line x1="1363.7" y1="38.75" x2="1363.7" y2="1528" stroke="#000" stroke-width="6" stroke-dasharray="31 27.5"/>
<line x1="1432.8" y1="38.75" x2="1432.8" y2="1528" stroke="#000" stroke-width="6" stroke-dasharray="31 27.5"/>
<line x1="1479.8" y1="38.75" x2="1479.8" y2="1528" stroke="#000" stroke-width="6" stroke-dasharray="31 27.5"/>
<line x1="1204.0" y1="195.0" x2="1254.5" y2="187.1" stroke="#000" stroke-width="1.3"/><polygon points="1292.0,181.2 1256.0,197.1 1252.9,177.1" fill="#000"/>
<line x1="1261.8" y1="561.2" x2="1311.7" y2="553.4" stroke="#000" stroke-width="1.3"/><polygon points="1349.2,547.5 1313.3,563.4 1310.1,543.4" fill="#000"/>
<line x1="1208.0" y1="957.0" x2="1259.2" y2="948.6" stroke="#000" stroke-width="1.3"/><polygon points="1296.8,942.5 1260.9,958.6 1257.6,938.6" fill="#000"/>
<line x1="1296.8" y1="1197.0" x2="1336.4" y2="1170.6" stroke="#000" stroke-width="1.3"/><polygon points="1368.0,1149.5 1342.0,1179.0 1330.8,1162.1" fill="#000"/>
<line x1="1521.5" y1="1332.5" x2="1448.4" y2="1112.4" stroke="#000" stroke-width="1.3"/><polygon points="1436.4,1076.3 1458.0,1109.2 1438.7,1115.6" fill="#000"/>
<line x1="1576.0" y1="1247.5" x2="1502.0" y2="1123.0" stroke="#000" stroke-width="1.3"/><polygon points="1482.6,1090.3 1510.7,1117.8 1493.3,1128.2" fill="#000"/>
<text class="an" transform="translate(955.25,236.5) scale(0.978,1)" x="0" y="0">1747cm<tspan class="sup" dy="-28" dx="2">−1</tspan></text>
<text class="an" transform="translate(1014.5,569.5) scale(0.978,1)" x="0" y="0">1644cm<tspan class="sup" dy="-28" dx="2">−1</tspan></text>
<text class="an" transform="translate(965.7,1015.3) scale(0.978,1)" x="0" y="0">1746cm<tspan class="sup" dy="-28" dx="2">−1</tspan></text>
<text class="an" transform="translate(1029,1267.7) scale(0.978,1)" x="0" y="0">1643cm<tspan class="sup" dy="-28" dx="2">−1</tspan></text>
<text class="an" transform="translate(1549.25,1300.2) scale(0.978,1)" x="0" y="0">1425cm<tspan class="sup" dy="-28" dx="2">−1</tspan></text>
<text class="an" transform="translate(1507,1390.8) scale(0.978,1)" x="0" y="0">1517cm<tspan class="sup" dy="-28" dx="2">−1</tspan></text>
<text class="lb" x="168" y="319.4">d</text>
<text class="lb" x="168" y="586.7">c</text>
<text class="lb" x="170.8" y="950.3">b</text>
<text class="lb" x="168" y="1290">a</text>
<text class="tk" transform="translate(105.0,1643.2) scale(1,1.03)" x="0" y="0">4000</text>
<text class="tk" transform="translate(372.2,1643.2) scale(1,1.03)" x="0" y="0">3500</text>
<text class="tk" transform="translate(639.4,1643.2) scale(1,1.03)" x="0" y="0">3000</text>
<text class="tk" transform="translate(906.6,1643.2) scale(1,1.03)" x="0" y="0">2500</text>
<text class="tk" transform="translate(1173.8,1643.2) scale(1,1.03)" x="0" y="0">2000</text>
<text class="tk" transform="translate(1441.0,1643.2) scale(1,1.03)" x="0" y="0">1500</text>
<text class="tk" transform="translate(1708.2,1643.2) scale(1,1.03)" x="0" y="0">1000</text>
<text class="tk" transform="translate(1975.4,1643.2) scale(1,1.03)" x="0" y="0">500</text>
<text class="ti" transform="translate(660,1806.2) scale(1,1.017)" x="0" y="0" style="font-kerning:none">Wavenumbers/cm<tspan class="tim" dy="-42" dx="3">−</tspan><tspan class="tis" dx="-3.5">1</tspan></text>
</svg></body></html>
